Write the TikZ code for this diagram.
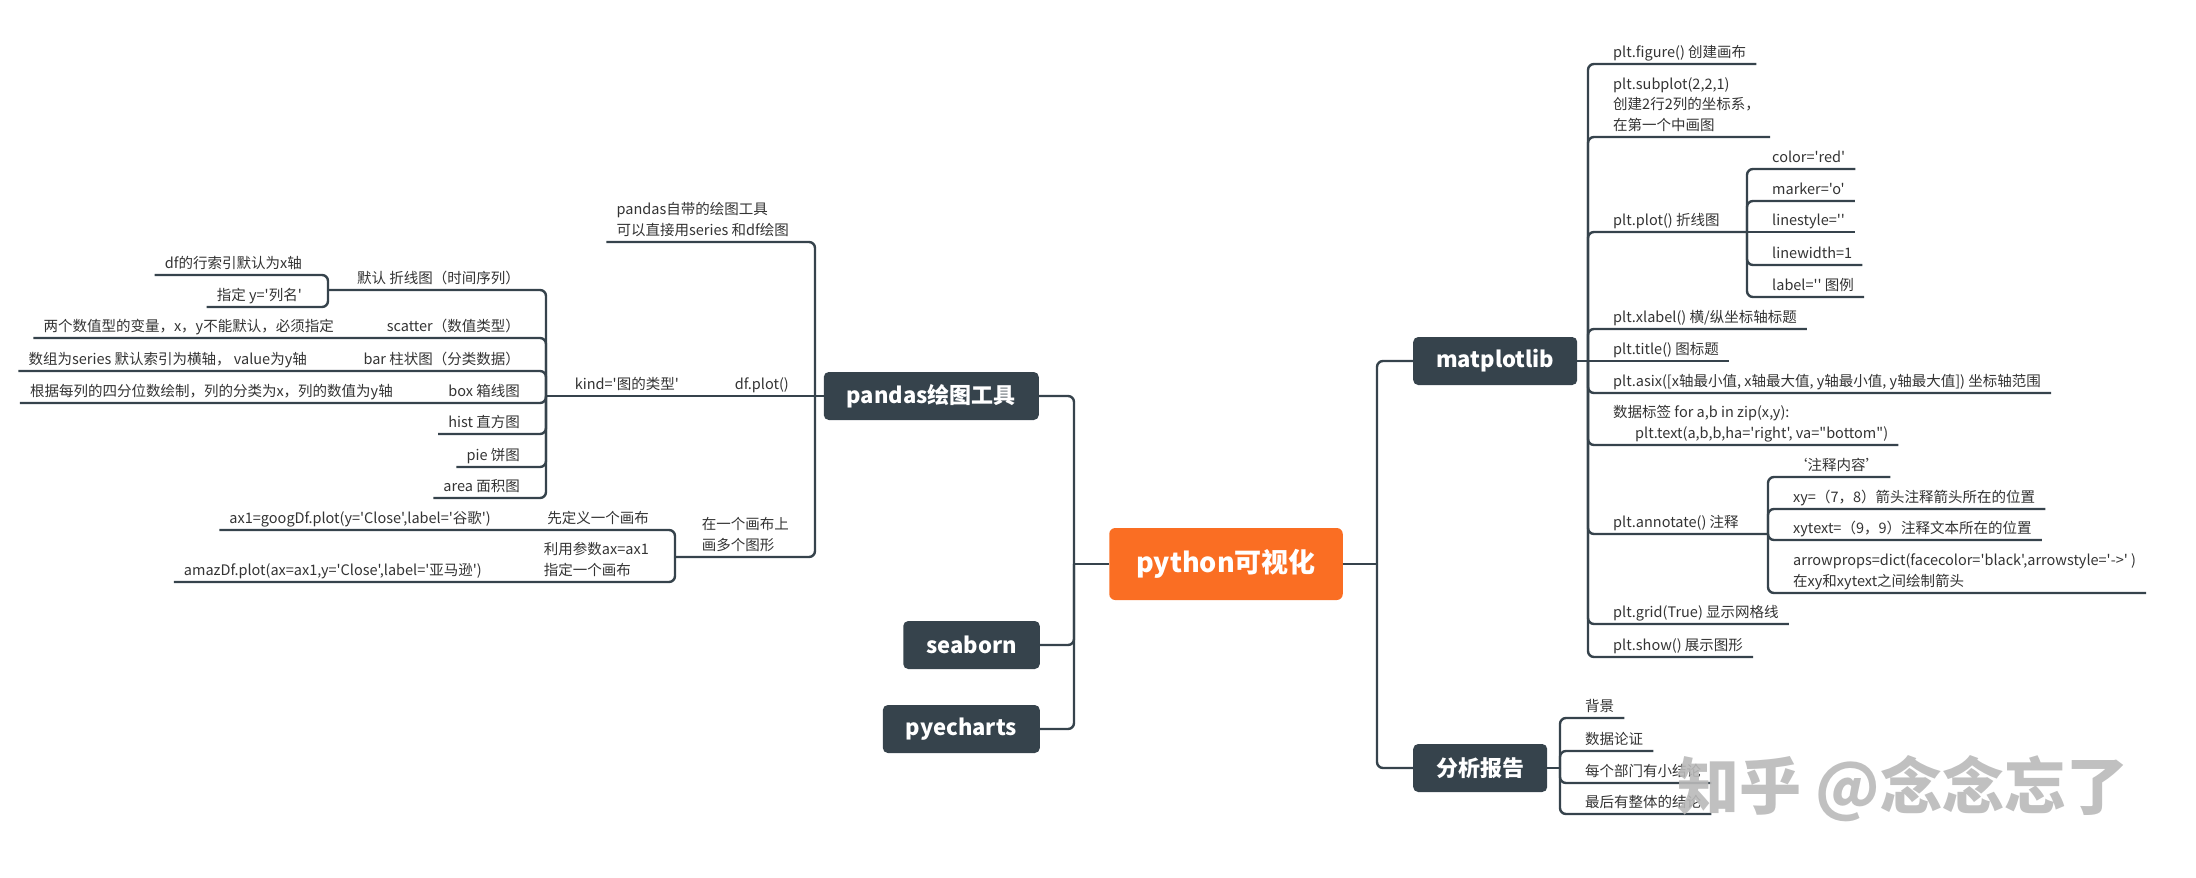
\documentclass[tikz,border=0pt]{standalone}
\usepackage{fontspec}
\newfontfamily\cjk{Noto Sans CJK SC}
\usepackage{xcolor}
\usepackage{tikz}
\usetikzlibrary{positioning,calc}
\definecolor{slate}{HTML}{36434C}
\definecolor{ink}{HTML}{333333}
\definecolor{rootorange}{HTML}{FA6E23}

\begin{document}
\begin{tikzpicture}[
  x=1pt,y=-1pt,
  link/.style={draw=slate,line width=2.4pt,rounded corners=6pt},
  leaf/.style={inner xsep=10pt,inner ysep=0.5pt,align=left,
    execute at end node=\strut},
  lnote/.style={leaf,anchor=south east},
  rnote/.style={leaf,anchor=south west},
  topic/.style={fill=slate,text=white,rounded corners=5pt,inner xsep=23pt,
    minimum height=48pt,font=\cjk\bfseries\fontsize{22}{26}\selectfont},
  rootbox/.style={fill=rootorange,text=white,rounded corners=6pt,
    inner xsep=27pt,minimum height=72pt,
    font=\cjk\bfseries\fontsize{27}{32}\selectfont},
  every node/.style={font=\cjk\fontsize{14.5}{20.5}\selectfont,text=ink}
]
  \useasboundingbox (0,0) rectangle (2196,878);

  \node[rootbox] (root) at (1226,564) {python可视化};
  \node[topic,anchor=east] (pandas) at (1039,396) {pandas绘图工具};
  \node[topic,anchor=east] (seaborn) at (1040,645) {seaborn};
  \node[topic,anchor=east] (pyecharts) at (1040,729) {pyecharts};
  \node[topic,anchor=west] (matplotlib) at (1413,361) {matplotlib};
  \node[topic,anchor=west] (report) at (1413,768) {分析报告};

  \coordinate (rootl) at (1074,564);
  \coordinate (rootr) at (1377,564);
  \coordinate (pdj) at (815,396);
  \coordinate (kindj) at (546,396);
  \coordinate (dfltj) at (328,290);
  \coordinate (multij) at (675,557);
  \coordinate (mplj) at (1588,361);
  \coordinate (plotj) at (1747,232);
  \coordinate (annotj) at (1768,534);
  \coordinate (repj) at (1560,768);

  \node[lnote] (pandasnote) at (799,242) {pandas自带的绘图工具\\可以直接用series 和df绘图};
  \node[lnote] (dfplot) at (799,396) {df.plot()};
  \node[lnote] (multi) at (799,557) {在一个画布上\\画多个图形};
  \node[lnote] (kind) at (689,396) {kind='图的类型'};
  \node[lnote] (dflt) at (530,290) {默认 折线图（时间序列）};
  \node[lnote] (rowidx) at (312,275) {df的行索引默认为x轴};
  \node[lnote] (ycol) at (312,307) {指定 y='列名'};
  \node[lnote] (scatter) at (530,338) {scatter（数值类型）};
  \node[lnote] (numvar) at (344,338) {两个数值型的变量，x，y不能默认，必须指定};
  \node[lnote] (bar) at (530,371) {bar 柱状图（分类数据）};
  \node[lnote] (series) at (317,371) {数组为series 默认索引为横轴， value为y轴};
  \node[lnote] (box) at (530,403) {box 箱线图};
  \node[lnote] (quart) at (403,403) {根据每列的四分位数绘制，列的分类为x，列的数值为y轴};
  \node[lnote] (hist) at (530,434) {hist 直方图};
  \node[lnote] (pie) at (530,467) {pie 饼图};
  \node[lnote] (area) at (530,498) {area 面积图};
  \node[lnote] (firstcanvas) at (659,530) {先定义一个画布};
  \node[lnote] (goog) at (501,530) {ax1=googDf.plot(y='Close',label='谷歌')};
  \node[lnote] (usecanvas) at (659,582) {利用参数ax=ax1\\指定一个画布};
  \node[lnote] (amaz) at (492,582) {amazDf.plot(ax=ax1,y='Close',label='亚马逊')};

  \node[rnote] (fig) at (1603,64) {plt.figure() 创建画布};
  \node[rnote] (subplot) at (1603,137) {plt.subplot(2,2,1)\\创建2行2列的坐标系，\\在第一个中画图};
  \node[rnote] (plot) at (1603,232) {plt.plot() 折线图};
  \node[rnote] (color) at (1762,169) {color='red'};
  \node[rnote] (marker) at (1762,201) {marker='o'};
  \node[rnote] (lstyle) at (1762,232) {linestyle=''};
  \node[rnote] (lwidth) at (1762,265) {linewidth=1};
  \node[rnote] (lab) at (1762,297) {label='' 图例};
  \node[rnote] (xlabel) at (1603,329) {plt.xlabel() 横/纵坐标轴标题};
  \node[rnote] (title) at (1603,361) {plt.title() 图标题};
  \node[rnote] (axis) at (1603,393) {plt.asix([x轴最小值, x轴最大值, y轴最小值, y轴最大值]) 坐标轴范围};
  \node[rnote] (datalabel) at (1603,445) {数据标签 for a,b in zip(x,y):\\\hspace*{22pt}plt.text(a,b,b,ha='right', va="bottom")};
  \node[rnote] (annot) at (1603,534) {plt.annotate() 注释};
  \node[rnote] (content) at (1783,477) {‘注释内容’};
  \node[rnote] (xy) at (1783,509) {xy=（7，8）箭头注释箭头所在的位置};
  \node[rnote] (xytext) at (1783,540) {xytext=（9，9）注释文本所在的位置};
  \node[rnote] (arrowprops) at (1783,593) {arrowprops=dict(facecolor='black',arrowstyle='->' )\\在xy和xytext之间绘制箭头};
  \node[rnote] (grid) at (1603,624) {plt.grid(True) 显示网格线};
  \node[rnote] (show) at (1603,657) {plt.show() 展示图形};

  \node[rnote] (bg) at (1575,718) {背景};
  \node[rnote] (proof) at (1575,751) {数据论证};
  \node[rnote] (dept) at (1575,783) {每个部门有小结论};
  \node[rnote] (whole) at (1575,814) {最后有整体的结论};

  \draw[link] (root.west) -- (rootl);
  \draw[link] (rootl) |- (pandas.east);
  \draw[link] (rootl) |- (seaborn.east);
  \draw[link] (rootl) |- (pyecharts.east);
  \draw[link] (root.east) -- (rootr);
  \draw[link] (rootr) |- (matplotlib.west);
  \draw[link] (rootr) |- (report.west);

  \draw[link] (pandas.west) -- (pdj);
  \draw[link] (pdj) |- (pandasnote.south west);
  \draw[link] (pdj) -- (dfplot.south west) -- (kind.south west) -- (kindj);
  \draw[link] (pdj) |- (multi.south west) -- (multij);
  \draw[link] (kindj) |- (dflt.south west) -- (dfltj);
  \draw[link] (dfltj) |- (rowidx.south west);
  \draw[link] (dfltj) |- (ycol.south west);
  \draw[link] (kindj) |- (scatter.south west) -- (numvar.south west);
  \draw[link] (kindj) |- (bar.south west) -- (series.south west);
  \draw[link] (kindj) |- (box.south west) -- (quart.south west);
  \draw[link] (kindj) |- (hist.south west);
  \draw[link] (kindj) |- (pie.south west);
  \draw[link] (kindj) |- (area.south west);
  \draw[link] (multij) |- (firstcanvas.south west) -- (goog.south west);
  \draw[link] (multij) |- (usecanvas.south west) -- (amaz.south west);

  \draw[link] (matplotlib.east) -- (mplj);
  \draw[link] (mplj) |- (fig.south east);
  \draw[link] (mplj) |- (subplot.south east);
  \draw[link] (mplj) |- (plot.south east) -- (plotj);
  \draw[link] (plotj) |- (color.south east);
  \draw[link] (plotj) |- (marker.south east);
  \draw[link] (plotj) -- (lstyle.south east);
  \draw[link] (plotj) |- (lwidth.south east);
  \draw[link] (plotj) |- (lab.south east);
  \draw[link] (mplj) |- (xlabel.south east);
  \draw[link] (mplj) -- (title.south east);
  \draw[link] (mplj) |- (axis.south east);
  \draw[link] (mplj) |- (datalabel.south east);
  \draw[link] (mplj) |- (annot.south east) -- (annotj);
  \draw[link] (annotj) |- (content.south east);
  \draw[link] (annotj) |- (xy.south east);
  \draw[link] (annotj) |- (xytext.south east);
  \draw[link] (annotj) |- (arrowprops.south east);
  \draw[link] (mplj) |- (grid.south east);
  \draw[link] (mplj) |- (show.south east);

  \draw[link] (report.east) -- (repj);
  \draw[link] (repj) |- (bg.south east);
  \draw[link] (repj) |- (proof.south east);
  \draw[link] (repj) |- (dept.south east);
  \draw[link] (repj) |- (whole.south east);

  \node[font=\cjk\bfseries\fontsize{62}{70}\selectfont,text=gray!55,opacity=0.9]
    (watermark) at (1903,789) {知乎 @念念忘了};
\end{tikzpicture}
\end{document}
